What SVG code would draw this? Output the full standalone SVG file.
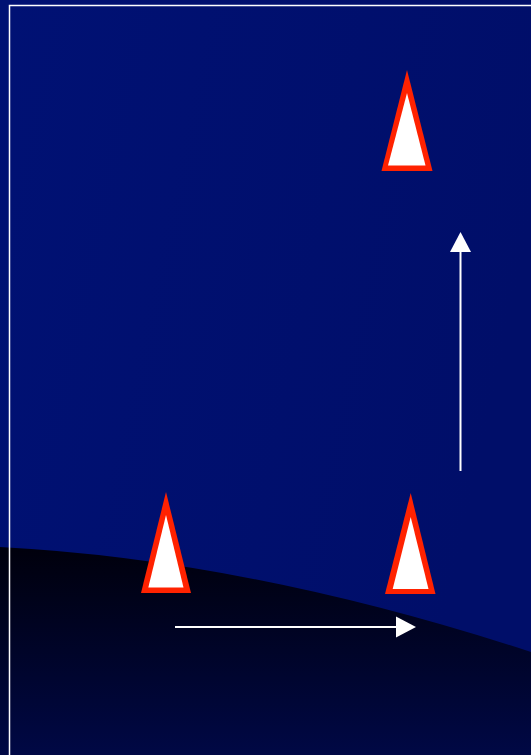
<svg xmlns="http://www.w3.org/2000/svg" width="531" height="755" viewBox="0 0 531 755">
  <defs>
    <linearGradient id="sky" x1="0" y1="0" x2="1" y2="0.3">
      <stop offset="0" stop-color="#001174"/>
      <stop offset="1" stop-color="#000e69"/>
    </linearGradient>
    <linearGradient id="ground" x1="0" y1="547" x2="0" y2="755" gradientUnits="userSpaceOnUse">
      <stop offset="0" stop-color="#00000c"/>
      <stop offset="1" stop-color="#000845"/>
    </linearGradient>
    <marker id="head" markerUnits="userSpaceOnUse" markerWidth="20" markerHeight="21" refX="0" refY="10.5" orient="auto" overflow="visible">
      <path d="M0,0 L20,10.5 L0,21 Z" fill="#ffffff"/>
    </marker>
    <style>
      .cone-out { fill: #ff2200; }
      .cone-in { fill: #ffffff; }
      .conn { stroke: #ffffff; stroke-width: 2; fill: none; marker-end: url(#head); }
    </style>
  </defs>

  <rect x="0" y="0" width="531" height="755" fill="url(#sky)"/>
  <path d="M0,547 Q250,560 531,652 L531,755 L0,755 Z" fill="url(#ground)"/>
  <path d="M9.5,760 L9.5,5.5 L540,5.5" fill="none" stroke="#ffffff" stroke-width="1.5"/>

  <g id="cone-top">
    <polygon class="cone-out" points="407,70 381.5,171 432.5,171"/>
    <polygon class="cone-in" points="407,93 388,165.5 425.5,165.5"/>
  </g>
  <g id="cone-bottom-left">
    <polygon class="cone-out" points="166,492 141,593 191,593"/>
    <polygon class="cone-in" points="166,515 148.3,587.5 183.5,587.5"/>
  </g>
  <g id="cone-bottom-right">
    <polygon class="cone-out" points="410.7,493 385,594 435.5,594"/>
    <polygon class="cone-in" points="410.7,517 392.7,589 428.5,589"/>
  </g>

  <g id="connectors">
    <line class="conn" x1="460.5" y1="471" x2="460.5" y2="252"/>
    <line class="conn" x1="175" y1="627" x2="396" y2="627"/>
  </g>
</svg>
